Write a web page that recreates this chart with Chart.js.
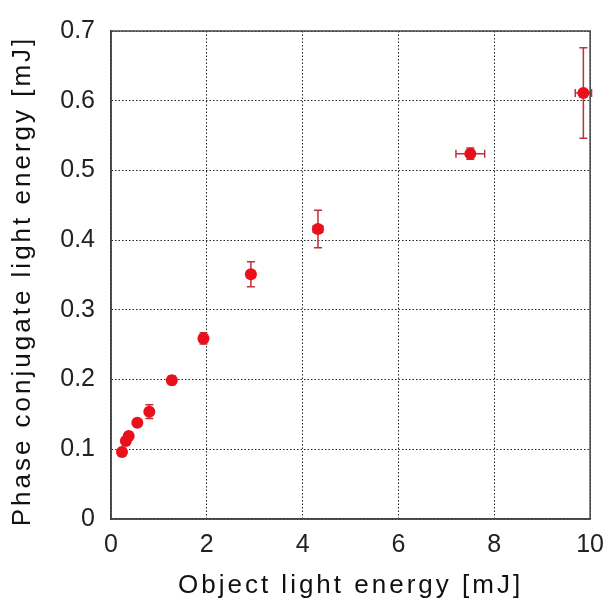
<!DOCTYPE html>
<html>
<head>
<meta charset="utf-8">
<script src="https://cdn.jsdelivr.net/npm/chart.js@4"></script>
<style>
html,body{margin:0;padding:0;background:#fff;}
#wrap{width:615px;height:603px;}
</style>
</head>
<body>
<div id="wrap"><canvas id="c" width="615" height="603"></canvas></div>
<script>
// Data
const xValues = [0.23, 0.31, 0.37, 0.55, 0.80, 1.27, 1.93, 2.92, 4.32, 7.50, 9.86];
const yValues = [0.096, 0.112, 0.119, 0.138, 0.154, 0.199, 0.259, 0.351, 0.416, 0.524, 0.611];
const xErrors = [0.02, 0.02, 0.02, 0.03, 0.04, 0.06, 0.08, 0.08, 0.10, 0.30, 0.17];
const yErrors = [0.004, 0.004, 0.004, 0.004, 0.010, 0.006, 0.008, 0.018, 0.027, 0.008, 0.065];
const xTicks = [0, 2, 4, 6, 8, 10];
const yTicks = [0, 0.1, 0.2, 0.3, 0.4, 0.5, 0.6, 0.7];
const xTitle = 'Object light energy [mJ]';
const yTitle = 'Phase conjugate light energy [mJ]';

const points = xValues.map((x, i) => ({x: x, y: yValues[i]}));

// wider title lettering, as in the reference
const origDrawTitle = Chart.LinearScale.prototype.drawTitle;
Chart.LinearScale.prototype.drawTitle = function () {
  const ctx = this.ctx;
  ctx.save();
  if ('letterSpacing' in ctx) ctx.letterSpacing = '3px';
  if (this.axis === 'y') ctx.translate(0, 6);
  origDrawTitle.apply(this, arguments);
  ctx.restore();
};

const errorBarPlugin = {
  id: 'errorBars',
  beforeDatasetsDraw(chart) {
    const ctx = chart.ctx;
    const xs = chart.scales.x, ys = chart.scales.y;
    const cap = 4;
    ctx.save();
    ctx.strokeStyle = '#c0303c';
    ctx.lineWidth = 1.5;
    xValues.forEach((x, i) => {
      const y = yValues[i];
      const px = xs.getPixelForValue(x), py = ys.getPixelForValue(y);
      const yTop = ys.getPixelForValue(y + yErrors[i]);
      const yBot = ys.getPixelForValue(y - yErrors[i]);
      const xL = xs.getPixelForValue(x - xErrors[i]);
      const xR = xs.getPixelForValue(x + xErrors[i]);
      ctx.beginPath();
      ctx.moveTo(px, yTop); ctx.lineTo(px, yBot);
      ctx.moveTo(px - cap, yTop); ctx.lineTo(px + cap, yTop);
      ctx.moveTo(px - cap, yBot); ctx.lineTo(px + cap, yBot);
      ctx.moveTo(xL, py); ctx.lineTo(xR, py);
      ctx.moveTo(xL, py - cap); ctx.lineTo(xL, py + cap);
      ctx.moveTo(xR, py - cap); ctx.lineTo(xR, py + cap);
      ctx.stroke();
    });
    ctx.restore();
  }
};

Chart.defaults.font.family = '"Liberation Sans", Arial, sans-serif';
Chart.defaults.color = '#222';

new Chart(document.getElementById('c'), {
  type: 'scatter',
  data: {
    datasets: [{
      data: points,
      pointStyle: 'circle',
      pointRadius: 6,
      pointHoverRadius: 6,
      backgroundColor: '#e8111b',
      borderColor: '#e8111b',
      borderWidth: 0
    }]
  },
  options: {
    responsive: false,
    animation: false,
    events: [],
    layout: {padding: {top: 31, right: 16, left: 0, bottom: 0}},
    plugins: {legend: {display: false}, tooltip: {enabled: false}},
    scales: {
      x: {
        type: 'linear',
        min: 0, max: 10,
        afterBuildTicks(scale) { scale.ticks = xTicks.map(v => ({value: v})); },
        afterFit(scale) { scale.height = 84; },
        ticks: {font: {size: 25}, padding: 11, color: '#222', maxRotation: 0},
        grid: {color: '#222', lineWidth: 1, drawTicks: false},
        border: {display: true, color: '#444', width: 1.5, dash: [1.5, 2]},
        title: {display: true, text: xTitle, font: {size: 26}, color: '#111', padding: {top: 0, bottom: 2}}
      },
      y: {
        type: 'linear',
        min: 0, max: 0.7,
        afterBuildTicks(scale) { scale.ticks = yTicks.map(v => ({value: v})); },
        afterFit(scale) { scale.width = 111; },
        ticks: {font: {size: 25}, padding: 16, color: '#222',
          callback: v => (v === 0 ? '0' : v.toFixed(1))},
        grid: {color: '#222', lineWidth: 1, drawTicks: false},
        border: {display: true, color: '#444', width: 1.5, dash: [1.5, 2]},
        title: {display: true, text: yTitle, font: {size: 26}, color: '#111', padding: {top: 7, bottom: 0}}
      }
    }
  },
  plugins: [errorBarPlugin, {
    id: 'frame',
    beforeDatasetsDraw(chart) {
      const a = chart.chartArea, ctx = chart.ctx;
      ctx.save();
      ctx.strokeStyle = '#444';
      ctx.lineWidth = 1.5;
      ctx.setLineDash([]);
      ctx.strokeRect(a.left, a.top, a.right - a.left, a.bottom - a.top);
      ctx.restore();
    }
  }]
});
</script>
</body>
</html>
